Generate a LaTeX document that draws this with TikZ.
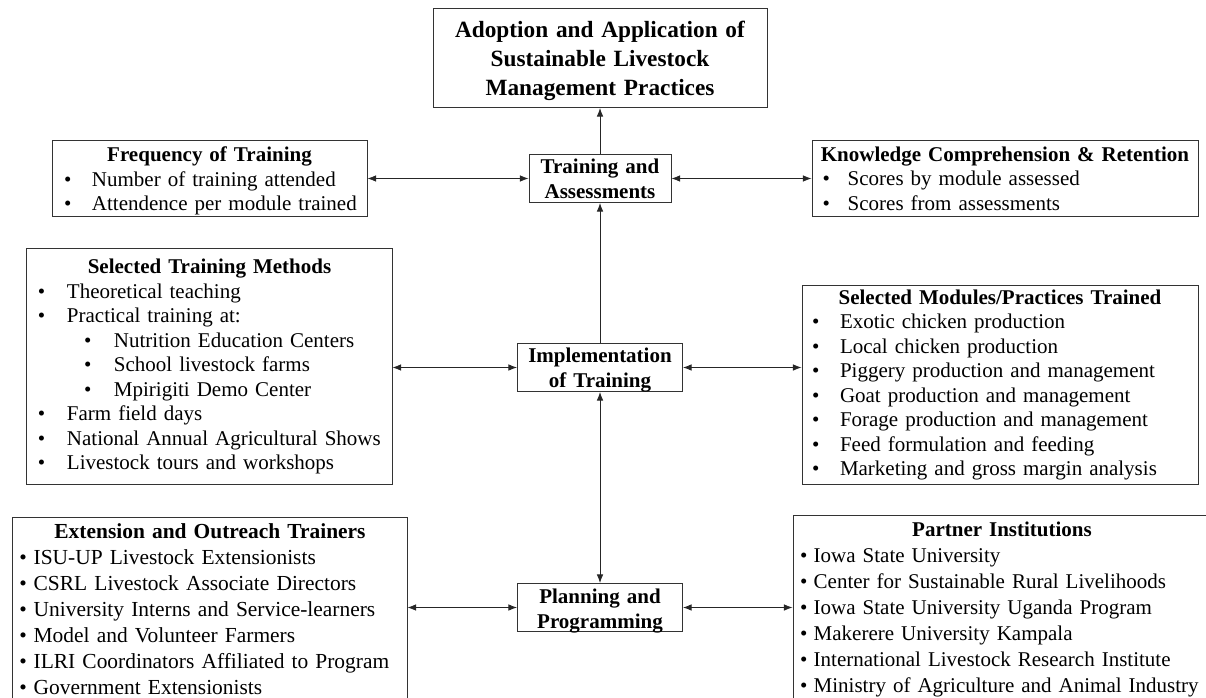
\documentclass[tikz,border=0pt]{standalone}
\usepackage{fontspec}
\setmainfont{Liberation Serif}
\usetikzlibrary{arrows.meta}

\newcommand{\bitem}[3]{\par\noindent\hspace*{#1}\makebox[#2][l]{\textbullet}\mbox{#3}}
\newcommand{\boxhead}[1]{{\centering\bfseries #1\par}}

\begin{document}
\begin{tikzpicture}[x = 0.7pt, y = -0.7pt, >={Latex[length=6pt, width=4.6pt]},
                        listbox/.style = {draw = black!80, line width = 0.7pt, anchor = north, align = left, inner xsep = 0pt, inner ysep = 0pt, font = \fontsize{14.7}{17.15}\selectfont},
                        widebox/.style = {listbox, font = \fontsize{15}{18.2}\selectfont},
                        hubbox/.style = {listbox, align = center, font = \fontsize{14.7}{17.5}\selectfont\bfseries},
                        goalbox/.style = {listbox, align = center, font = \fontsize{16.3}{20.3}\selectfont\bfseries},
                        link/.style = {line width = 0.6pt, draw = black!85}]
      \clip (0, 0) rectangle (1206, 698);

      \node [goalbox, text width = 233.8pt, minimum height = 69.3pt] (goal) at (600, 8)
            {\rule{0pt}{15.5pt}Adoption and Application of\\Sustainable Livestock\\Management Practices};
      \node [hubbox, text width = 99.4pt, minimum height = 33.6pt, text height = 13.5pt, text depth = 20.1pt] (assess) at (600, 154)
            {Training and\\Assessments};
      \node [hubbox, text width = 115.5pt, minimum height = 33.6pt, text height = 13pt, text depth = 20.6pt] (impl) at (600, 343)
            {Implementation\\of Training};
      \node [hubbox, text width = 115.5pt, minimum height = 33.6pt, text height = 14.3pt, text depth = 19.3pt] (plan) at (600, 583)
            {Planning and\\Programming};

      \node [listbox, text width = 220.5pt, minimum height = 53.2pt] (freq) at (209.5, 140){
            \boxhead{\rule{0pt}{14.2pt}Frequency of Training}
            \bitem{8.4pt}{19.6pt}{Number of training attended}
            \bitem{8.4pt}{19.6pt}{Attendence per module trained}};
      \node [listbox, text width = 270.2pt, minimum height = 53.2pt] (know) at (1005, 140){
            \boxhead{Knowledge Comprehension \& Retention}
            \bitem{7.5pt}{17.5pt}{Scores by module assessed}
            \bitem{7.5pt}{17.5pt}{Scores from assessments}};

      \node [listbox, text width = 255.5pt, minimum height = 165.2pt] (methods) at (209.5, 248){
            \boxhead{Selected Training Methods}
            \bitem{7.7pt}{20.3pt}{Theoretical teaching}
            \bitem{7.7pt}{20.3pt}{Practical training at:}
            \bitem{40pt}{20.9pt}{Nutrition Education Centers}
            \bitem{40pt}{20.9pt}{School livestock farms}
            \bitem{40pt}{20.9pt}{Mpirigiti Demo Center}
            \bitem{7.7pt}{20.3pt}{Farm field days}
            \bitem{7.7pt}{20.3pt}{National Annual Agricultural Shows}
            \bitem{7.7pt}{20.3pt}{Livestock tours and workshops}};
      \node [listbox, text width = 277.2pt, minimum height = 139.3pt] (modules) at (1000, 285){
            \boxhead{Selected Modules/Practices Trained}
            \bitem{7pt}{19.6pt}{Exotic chicken production}
            \bitem{7pt}{19.6pt}{Local chicken production}
            \bitem{7pt}{19.6pt}{Piggery production and management}
            \bitem{7pt}{19.6pt}{Goat production and management}
            \bitem{7pt}{19.6pt}{Forage production and management}
            \bitem{7pt}{19.6pt}{Feed formulation and feeding}
            \bitem{7pt}{19.6pt}{Marketing and gross margin analysis}};

      \node [widebox, text width = 275.8pt, minimum height = 129pt] (trainers) at (210, 517){
            \boxhead{Extension and Outreach Trainers}
            \bitem{4.5pt}{10pt}{ISU-UP Livestock Extensionists}
            \bitem{4.5pt}{10pt}{CSRL Livestock Associate Directors}
            \bitem{4.5pt}{10pt}{University Interns and Service-learners}
            \bitem{4.5pt}{10pt}{Model and Volunteer Farmers}
            \bitem{4.5pt}{10pt}{ILRI Coordinators Affiliated to Program}
            \bitem{4.5pt}{10pt}{Government Extensionists}};
      \node [widebox, font = \fontsize{14.7}{18.2}\selectfont, text width = 292.6pt, minimum height = 131.6pt] (partners) at (1002, 515){
            \boxhead{Partner Institutions}
            \bitem{5pt}{9.5pt}{Iowa State University}
            \bitem{5pt}{9.5pt}{Center for Sustainable Rural Livelihoods}
            \bitem{5pt}{9.5pt}{Iowa State University Uganda Program}
            \bitem{5pt}{9.5pt}{Makerere University Kampala}
            \bitem{5pt}{9.5pt}{International Livestock Research Institute}
            \bitem{5pt}{9.5pt}{Ministry of Agriculture and Animal Industry}};

      \draw [link, ->] (assess) -- (goal);
      \draw [link, <->] (freq) -- (assess);
      \draw [link, <->] (assess) -- (know);
      \draw [link, ->] (impl) -- (assess);
      \draw [link, <->] (impl) -- (plan);
      \draw [link, <->] (methods.east |- impl) -- (impl);
      \draw [link, <->] (impl) -- (impl -| modules.west);
      \draw [link, <->] (trainers.east |- plan) -- (plan);
      \draw [link, <->] (plan) -- (plan -| partners.west);
\end{tikzpicture}
\end{document}
